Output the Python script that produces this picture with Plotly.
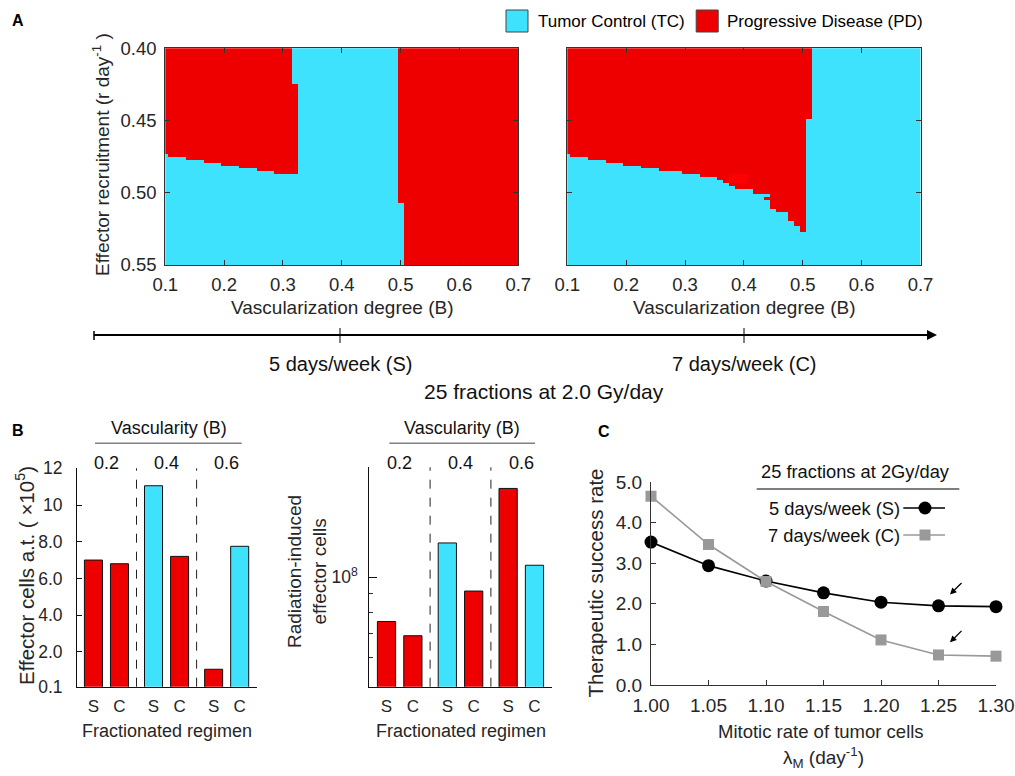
import numpy as np
import plotly.graph_objects as go

W, H = 1015, 776
FONT = "Arial, 'Liberation Sans', Helvetica, sans-serif"
INK = "#262626"
CYAN = "#3EE2FD"
RED = "#EE0000"
RED_HI = "#FF0000"

# ---------------- Panel A: outcome maps ----------------
b_grid = np.round(np.arange(0.10, 0.7001, 0.01), 2)     # vascularization degree B
r_grid = np.round(np.arange(0.400, 0.5501, 0.002), 3)   # effector recruitment r

# Progressive-disease blocks (inclusive grid limits), 5 days/week (S)
s_pd_b_lo = [0.10, 0.11, 0.14, 0.17, 0.20, 0.23, 0.26, 0.29, 0.32, 0.50, 0.51]
s_pd_b_hi = [0.10, 0.13, 0.16, 0.19, 0.22, 0.25, 0.28, 0.31, 0.32, 0.50, 0.70]
s_pd_r_lo = [0.400, 0.400, 0.400, 0.400, 0.400, 0.400, 0.400, 0.400, 0.426, 0.400, 0.400]
s_pd_r_hi = [0.472, 0.474, 0.476, 0.478, 0.480, 0.482, 0.484, 0.486, 0.486, 0.506, 0.550]

# Progressive-disease blocks, 7 days/week (C)
c_pd_b_lo = [0.10, 0.11, 0.14, 0.17, 0.20, 0.23, 0.26, 0.30, 0.33, 0.36, 0.37,
             0.38, 0.39, 0.42, 0.44, 0.45, 0.46, 0.48, 0.49, 0.50, 0.51]
c_pd_b_hi = [0.10, 0.13, 0.16, 0.19, 0.22, 0.25, 0.29, 0.32, 0.35, 0.36, 0.37,
             0.38, 0.41, 0.44, 0.44, 0.45, 0.47, 0.48, 0.49, 0.50, 0.51]
c_pd_r_lo = [0.400, 0.400, 0.400, 0.400, 0.400, 0.400, 0.400, 0.400, 0.400, 0.400, 0.400,
             0.400, 0.400, 0.400, 0.504, 0.400, 0.400, 0.400, 0.400, 0.400, 0.400]
c_pd_r_hi = [0.472, 0.474, 0.476, 0.478, 0.480, 0.482, 0.484, 0.486, 0.488, 0.490, 0.492,
             0.494, 0.496, 0.500, 0.504, 0.510, 0.512, 0.518, 0.522, 0.526, 0.448]
# small block drawn in pure red inside the PD area (C)
c_hi_b_lo, c_hi_b_hi, c_hi_r_lo, c_hi_r_hi = [0.38], [0.40], [0.488], [0.492]

b_ticks = [0.1, 0.2, 0.3, 0.4, 0.5, 0.6, 0.7]
r_ticks = [0.40, 0.45, 0.50, 0.55]

# ---------------- Panel B: bars ----------------
vascularity = ["0.2", "0.4", "0.6"]
regimens = ["S", "C"]
effector_at = [7.0, 6.8, 11.05, 7.2, 1.05, 7.75]            # x 10^5
rad_effector = [7.55e7, 6.9e7, 1.24e8, 9.15e7, 1.75e8, 1.077e8]
outcome = ["PD", "PD", "TC", "PD", "PD", "TC"]

# ---------------- Panel C: success rate ----------------
lambda_m = [1.00, 1.05, 1.10, 1.15, 1.20, 1.25, 1.30]
success_s = [3.52, 2.94, 2.56, 2.27, 2.04, 1.95, 1.93]
success_c = [4.65, 3.46, 2.55, 1.81, 1.11, 0.74, 0.71]


def outcome_map(blocks, level, z=None):
    if z is None:
        z = np.zeros((len(r_grid), len(b_grid)))
    for b0, b1, r0, r1 in zip(*blocks):
        cols = (b_grid >= b0 - 1e-9) & (b_grid <= b1 + 1e-9)
        rows = (r_grid >= r0 - 1e-9) & (r_grid <= r1 + 1e-9)
        z[np.ix_(rows, cols)] = level
    return z


z_s = outcome_map((s_pd_b_lo, s_pd_b_hi, s_pd_r_lo, s_pd_r_hi), 1)
z_c = outcome_map((c_pd_b_lo, c_pd_b_hi, c_pd_r_lo, c_pd_r_hi), 1)
z_c = outcome_map((c_hi_b_lo, c_hi_b_hi, c_hi_r_lo, c_hi_r_hi), 2, z_c)

px = lambda x: x / W
py = lambda y: 1 - y / H

fig = go.Figure()
scale = [[0, CYAN], [0.5, RED], [1, RED_HI]]
for z, xa, ya in [(z_s, "x", "y"), (z_c, "x2", "y2")]:
    fig.add_trace(go.Heatmap(x=b_grid, y=r_grid, z=z, zmin=0, zmax=2,
                             colorscale=scale, showscale=False,
                             hoverinfo="skip", xaxis=xa, yaxis=ya))

# bars: group index +/- half spacing for S / C
OFF = 0.2167
bar_x = [g + (-OFF if r == "S" else OFF) for g in range(len(vascularity)) for r in regimens]
bar_col = [CYAN if o == "TC" else RED for o in outcome]
bar_text = [r for _ in vascularity for r in regimens]
for vals, xa, ya in [(effector_at, "x3", "y3"), (rad_effector, "x4", "y4")]:
    fig.add_trace(go.Bar(x=bar_x, y=vals, width=0.3, marker=dict(color=bar_col,
                         line=dict(color="#111111", width=1)),
                         xaxis=xa, yaxis=ya, showlegend=False, hoverinfo="skip"))

fig.add_trace(go.Scatter(x=lambda_m, y=success_s, mode="lines+markers",
                         line=dict(color="#000000", width=1.6),
                         marker=dict(symbol="circle", size=13, color="#000000"),
                         xaxis="x5", yaxis="y5", cliponaxis=False, showlegend=False))
fig.add_trace(go.Scatter(x=lambda_m, y=success_c, mode="lines+markers",
                         line=dict(color="#999999", width=1.6),
                         marker=dict(symbol="square", size=11, color="#999999"),
                         xaxis="x5", yaxis="y5", cliponaxis=False, showlegend=False))

tick_font = dict(family=FONT, size=18.5, color=INK)
heat_axis = dict(showline=True, linecolor="#333333", linewidth=1, mirror="ticks",
                 ticks="inside", ticklen=5, tickcolor="#333333", showgrid=False,
                 zeroline=False, tickfont=tick_font, automargin=False)
plain = dict(showgrid=False, zeroline=False, automargin=False, showline=True)

layout = dict(
    template="none",
    width=W, height=H, margin=dict(l=0, r=0, t=0, b=0, autoexpand=False),
    paper_bgcolor="white", plot_bgcolor="white", showlegend=False,
    font=dict(family=FONT, color=INK),
    xaxis=dict(domain=[px(165.3), px(518.3)], range=[0.1, 0.7], tickvals=b_ticks,
               ticktext=[f"{v:.1f}" for v in b_ticks], anchor="y",
               ticklabelstandoff=3, **heat_axis),
    yaxis=dict(domain=[py(265), py(48.3)], range=[0.55, 0.40], tickvals=r_ticks,
               ticktext=[f"{v:.2f}" for v in r_ticks], anchor="x",
               ticklabelstandoff=4, **heat_axis),
    xaxis2=dict(domain=[px(567.3), px(920.5)], range=[0.1, 0.7], tickvals=b_ticks,
                ticktext=[f"{v:.1f}" for v in b_ticks], anchor="y2",
                ticklabelstandoff=3, **heat_axis),
    yaxis2=dict(domain=[py(265), py(48.3)], range=[0.55, 0.40], tickvals=r_ticks,
                showticklabels=False, anchor="x2", **heat_axis),
    xaxis3=dict(domain=[px(77), px(256.7)], range=[-0.49, 2.5], tickvals=bar_x,
                ticktext=bar_text, ticks="", linecolor="#111111", anchor="y3",
                ticklabelstandoff=4,
                tickfont=dict(family=FONT, size=17, color=INK), **plain),
    yaxis3=dict(domain=[py(686.7), py(468.3)], range=[0.1, 12],
                tickvals=[0.1, 2, 4, 6, 8, 10, 12],
                ticktext=["0.1", "2.0", "4.0", "6.0", "8.0", "10", "12"],
                ticks="inside", ticklen=5, linecolor="#111111", tickcolor="#111111",
                anchor="x3", ticklabelstandoff=10,
                tickfont=dict(family=FONT, size=17.5, color=INK), **plain),
    xaxis4=dict(domain=[px(369.3), px(551.7)], range=[-0.5, 2.5], tickvals=bar_x,
                ticktext=bar_text, ticks="", linecolor="#111111", anchor="y4",
                ticklabelstandoff=4,
                tickfont=dict(family=FONT, size=17, color=INK), **plain),
    yaxis4=dict(domain=[py(686.7), py(467.3)], type="log",
                range=[np.log10(5e7), np.log10(2e8)], tickvals=[1e8],
                ticktext=["10<sup>8</sup>"], ticks="inside", ticklen=8,
                tickcolor="#111111",
                minor=dict(tickmode="array", tickvals=[6e7, 7e7, 8e7, 9e7],
                           ticks="inside", ticklen=4, tickcolor="#333333"),
                linecolor="#111111", anchor="x4", ticklabelstandoff=7,
                tickfont=dict(family=FONT, size=17.5, color=INK), **plain),
    xaxis5=dict(domain=[px(651), px(996)], range=[1.0, 1.3], tickvals=lambda_m,
                ticktext=[f"{v:.2f}" for v in lambda_m], ticks="inside", ticklen=5,
                linecolor="#333333", tickcolor="#333333", anchor="y5",
                ticklabelstandoff=3, tickfont=dict(family=FONT, size=19, color=INK), **plain),
    yaxis5=dict(domain=[py(685), py(482)], range=[0, 5], tickvals=[0, 1, 2, 3, 4, 5],
                ticktext=["0.0", "1.0", "2.0", "3.0", "4.0", "5.0"], ticks="inside",
                ticklen=5, linecolor="#333333", tickcolor="#333333", anchor="x5",
                ticklabelstandoff=4, tickfont=dict(family=FONT, size=19, color=INK), **plain),
)
fig.update_layout(**layout)

shapes = []
annotations = []


def text(t, x, y, size=18, xanchor="center", yanchor="middle", angle=0,
         color=INK, xref="paper", yref="paper", bold=False):
    if xref == "paper":
        x = px(x)
    if yref == "paper":
        y = py(y)
    annotations.append(dict(text=f"<b>{t}</b>" if bold else t, x=x, y=y,
                            xref=xref, yref=yref, xanchor=xanchor, yanchor=yanchor,
                            textangle=angle, showarrow=False,
                            font=dict(family=FONT, size=size, color=color)))


def line(x0, y0, x1, y1, color="#000000", width=1, dash="solid"):
    shapes.append(dict(type="line", xref="paper", yref="paper", x0=px(x0), y0=py(y0),
                       x1=px(x1), y1=py(y1), line=dict(color=color, width=width, dash=dash)))


# panel letters
text("A", 18, 20, 16, bold=True, color="#000000")
text("B", 18, 430, 16, bold=True, color="#000000")
text("C", 604, 431, 16, bold=True, color="#000000")

# panel A legend
for x0, col in [(506, CYAN), (696.2, RED)]:
    shapes.append(dict(type="rect", xref="paper", yref="paper", x0=px(x0), x1=px(x0 + 22),
                       y0=py(32), y1=py(10), fillcolor=col, line=dict(color="#444444", width=1)))
text("Tumor Control (TC)", 536, 21, 17, xanchor="left", color="#000000")
text("Progressive Disease (PD)", 725, 21, 17, xanchor="left", color="#000000")

# panel A axis titles
text("Effector recruitment (r day<sup>-1</sup> )", 101, 155, 19, angle=-90)
text("Vascularization degree (B)", 341.8, 308, 19)
text("Vascularization degree (B)", 743.9, 308, 19)

# regimen timeline
line(94, 335, 930, 335, width=2)
line(94, 331, 94, 340, width=1.5)
line(340, 328, 340, 343, width=1)
line(744, 328, 744, 343, width=1)
annotations.append(dict(x=px(937), y=py(335), xref="paper", yref="paper", ax=-14, ay=0,
                        showarrow=True, arrowhead=2, arrowsize=1, arrowwidth=2,
                        arrowcolor="#000000", text=""))
text("5 days/week (S)", 340.5, 364, 20, color="#111111")
text("7 days/week (C)", 744, 364, 20, color="#111111")
text("25 fractions at 2.0 Gy/day", 544, 391, 21, color="#111111")

# panel B headers and separators
for xa, ya, xc, xl0, xl1, xt in [("x3", "y3", 169, 95, 241.7, 166.8),
                                 ("x4", "y4", 461.7, 389.3, 535, 460.5)]:
    text("Vascularity (B)", xc, 428.3, 18, color="#111111")
    line(xl0, 443.3, xl1, 443.3, color="#808080", width=1.5)
    for g, v in enumerate(vascularity):
        text(v, g, 462.7, 18, xref=xa, color="#111111")
    for xb in (0.5, 1.5):
        shapes.append(dict(type="line", xref=xa, yref=f"{ya} domain", x0=xb, x1=xb,
                           y0=0, y1=1, line=dict(color="#222222", width=1, dash="dash")))
    text("Fractionated regimen", xt, 731, 18)
text("Effector cells a.t. ( \u00d710<sup>5</sup>)", 25, 576, 20.5, angle=-90)
text("Radiation-induced<br>effector cells", 307, 572, 19, angle=-90)

# panel C titles and legend
text("Therapeutic success rate", 595, 583.5, 20.5, angle=-90)
text("Mitotic rate of tumor cells", 821, 731, 18.5)
text("\u03bb<sub>M</sub> (day<sup>-1</sup>)", 823, 757, 19)
text("25 fractions at 2Gy/day", 855.7, 471.7, 18.3, color="#111111")
line(756.7, 489, 959.3, 489, color="#555555", width=1.5)
text("5 days/week (S)", 902, 508, 18.3, xanchor="right", color="#111111")
text("7 days/week (C)", 902, 535, 18.3, xanchor="right", color="#111111")
line(903.3, 508, 945, 508, color="#000000", width=1.6)
line(903.3, 535, 945, 535, color="#999999", width=1.6)
shapes.append(dict(type="circle", xref="paper", yref="paper", x0=px(918.5), x1=px(931.5),
                   y0=py(514.5), y1=py(501.5), fillcolor="#000000", line=dict(width=0)))
shapes.append(dict(type="rect", xref="paper", yref="paper", x0=px(919.5), x1=px(930.5),
                   y0=py(540.5), y1=py(529.5), fillcolor="#999999", line=dict(width=0)))

# arrows pointing at the last points
for yv in (2.23, 1.05):
    annotations.append(dict(x=1.26, y=yv, xref="x5", yref="y5", ax=13, ay=-13,
                            showarrow=True, arrowhead=2, arrowsize=1, arrowwidth=1.3,
                            arrowcolor="#000000", text=""))

fig.update_layout(shapes=shapes, annotations=annotations)
fig.write_html("out.html")
